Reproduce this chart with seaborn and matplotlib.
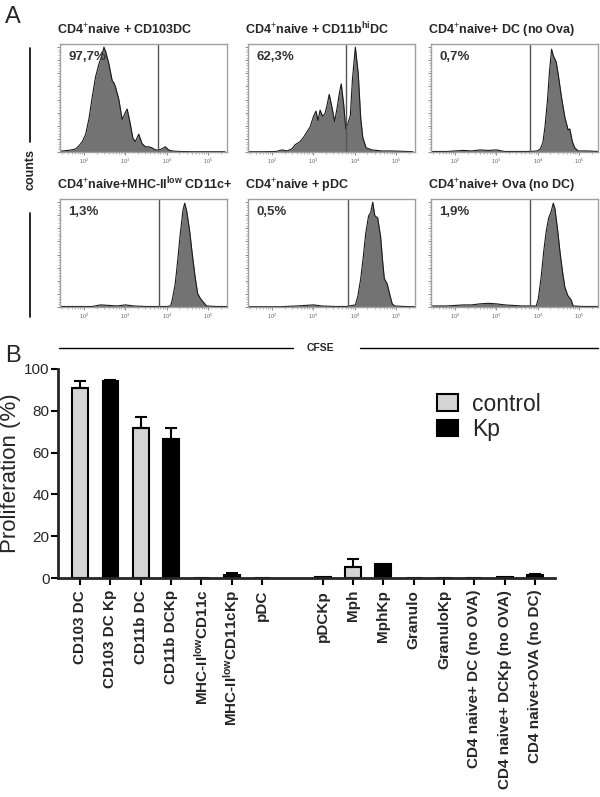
import numpy as np
import pandas as pd
import matplotlib
matplotlib.use("Agg")
import matplotlib.pyplot as plt
import seaborn as sns
from matplotlib.lines import Line2D
from matplotlib.patches import Patch

# ---------------- panel A: CFSE histograms (x = log10 CFSE, y = % of max count)
hist_titles = [r"CD4$^{+}$naive + CD103DC",
               r"CD4$^{+}$naive + CD11b$^{\mathregular{hi}}$DC",
               r"CD4$^{+}$naive+ DC (no Ova)",
               r"CD4$^{+}$naive+MHC-II$^{\mathregular{low}}$ CD11c+",
               r"CD4$^{+}$naive + pDC",
               r"CD4$^{+}$naive+ Ova (no DC)"]
hist_pct = ["97,7%", "62,3%", "0,7%", "1,3%", "0,5%", "1,9%"]
gate_log = [3.78, 3.78, 3.80, 3.80, 3.83, 3.80]

h1_x = [1.40, 1.50, 1.60, 1.70, 1.80, 1.88, 1.96, 2.04, 2.12, 2.20, 2.28, 2.36, 2.44, 2.48,
        2.52, 2.60, 2.68, 2.72, 2.76, 2.84, 2.92, 3.00, 3.04, 3.10, 3.18, 3.24, 3.32, 3.40,
        3.48, 3.56, 3.64, 3.72, 3.80, 3.88, 3.96, 4.04, 4.12, 4.30, 4.60, 5.00, 5.40]
h1_y = [1, 1, 1.5, 2, 3, 6, 10, 17, 32, 53, 72, 84, 93, 100,
        96, 84, 68, 66, 62, 50, 31, 38, 41, 30, 13, 10, 17, 8,
        5, 5, 4, 2, 2, 3, 5, 2, 1, 0.5, 0.3, 0.3, 0.3]

h2_x = [1.40, 1.80, 2.10, 2.24, 2.36, 2.48, 2.56, 2.68, 2.76, 2.84, 2.92, 3.00, 3.06, 3.11,
        3.16, 3.22, 3.28, 3.33, 3.38, 3.45, 3.51, 3.57, 3.62, 3.67, 3.73, 3.78, 3.83, 3.89,
        3.94, 4.01, 4.08, 4.14, 4.19, 4.27, 4.41, 4.65, 4.90, 5.40]
h2_y = [0.3, 0.3, 0.5, 2, 1, 3, 7, 10, 14, 19, 24, 34, 39, 30,
        40, 34, 37, 45, 55, 42, 29, 42, 55, 65, 45, 22, 27, 35,
        69, 100, 75, 32, 14, 4, 2, 1, 1, 0.3]

h3_x = [1.45, 1.80, 2.00, 2.20, 2.40, 2.60, 2.80, 3.00, 3.20, 3.50, 3.80, 3.98, 4.06, 4.12,
        4.17, 4.23, 4.28, 4.33, 4.37, 4.44, 4.49, 4.57, 4.65, 4.73, 4.77, 4.83, 4.89, 4.97,
        5.20, 5.45]
h3_y = [0.5, 0.5, 1, 1.5, 1, 2, 1.5, 2, 0.5, 0.5, 0.5, 1, 3, 9,
        24, 49, 77, 98, 92, 86, 74, 52, 33, 21, 22, 10, 4, 1,
        1, 0.5]

h4_x = [1.40, 1.80, 2.20, 2.40, 2.60, 2.80, 3.00, 3.20, 3.50, 3.80, 4.00, 4.09, 4.13, 4.20,
        4.26, 4.32, 4.39, 4.43, 4.48, 4.55, 4.61, 4.68, 4.74, 4.81, 4.87, 4.96, 5.20, 5.45]
h4_y = [0.5, 0.5, 0.5, 2, 1.5, 1, 2, 1, 0.5, 0.5, 0.5, 1, 7, 22,
        44, 69, 93, 99, 91, 72, 51, 29, 13, 8, 5, 1, 0.5, 0.5]

h5_x = [1.40, 1.80, 2.20, 2.60, 2.80, 3.00, 3.20, 3.50, 3.80, 4.01, 4.07, 4.14, 4.20, 4.26,
        4.33, 4.38, 4.43, 4.48, 4.55, 4.62, 4.67, 4.71, 4.78, 4.84, 4.90, 4.96, 5.20, 5.45]
h5_y = [0.3, 0.3, 0.3, 1, 1.5, 2, 1, 0.5, 0.5, 2, 10, 27, 47, 70,
        87, 90, 100, 87, 85, 67, 43, 27, 22, 12, 3, 1, 0.5, 0.3]

h6_x = [1.45, 1.80, 2.00, 2.20, 2.40, 2.60, 2.80, 3.00, 3.20, 3.40, 3.60, 3.80, 3.96, 4.01,
        4.08, 4.14, 4.20, 4.26, 4.32, 4.37, 4.41, 4.48, 4.54, 4.60, 4.65, 4.72, 4.80, 4.85,
        5.10, 5.45]
h6_y = [1, 1, 1.5, 2, 2, 3, 3.5, 3, 2, 1.5, 1, 1, 1, 8,
        29, 53, 72, 85, 91, 99, 94, 72, 50, 32, 19, 11, 7, 1,
        0.5, 0.5]

hist_x = [h1_x, h2_x, h3_x, h4_x, h5_x, h6_x]
hist_y = [h1_y, h2_y, h3_y, h4_y, h5_y, h6_y]

# ---------------- panel B: proliferation bars
conditions = ["CD103 DC", "CD103 DC Kp", "CD11b DC", "CD11b DCKp",
              r"MHC-II$^{\mathregular{low}}$CD11c", r"MHC-II$^{\mathregular{low}}$CD11cKp",
              "pDC", "pDCKp", "Mph", "MphKp", "Granulo", "GranuloKp",
              "CD4 naive+ DC (no OVA)", "CD4 naive+ DCKp (no OVA)", "CD4 naive+OVA (no DC)"]
groups = ["control", "Kp", "control", "Kp", "control", "Kp", "control", "Kp",
          "control", "Kp", "control", "Kp", "control", "Kp", "Kp"]
prolif_mean = [91.0, 94.3, 72.0, 66.3, 0.0, 1.6, 0.0, 0.5, 5.5, 6.9, 0.0, 0.0, 0.0, 0.4, 1.3]
prolif_sem = [3.2, 0.4, 4.8, 5.4, 0.0, 0.6, 0.0, 0.0, 3.7, 0.0, 0.0, 0.0, 0.0, 0.0, 0.4]

GRAY_BAR = "#d4d4d4"
HIST_FILL = "#737373"

sns.set_style("ticks")
plt.rcParams['font.family'] = ['Liberation Sans', 'DejaVu Sans']
plt.rcParams['mathtext.fontset'] = 'custom'
plt.rcParams['mathtext.rm'] = 'Liberation Sans'
plt.rcParams['mathtext.it'] = 'Liberation Sans:italic'
plt.rcParams['mathtext.bf'] = 'Liberation Sans:bold'

W, H = 600, 797
fig = plt.figure(figsize=(W / 100, H / 100), dpi=100)


def px(l, t, w, h):
    return [l / W, 1 - (t + h) / H, w / W, h / H]


col_left = [60, 248, 431]
row_top = [44, 199]
minor = [np.log10(k * 10.0 ** d) for d in range(1, 6) for k in range(2, 10)]

for i in range(6):
    r, c = divmod(i, 3)
    ax = fig.add_axes(px(col_left[c], row_top[r], 167, 108))
    x, y = hist_x[i], hist_y[i]
    ax.fill_between(x, y, color=HIST_FILL, lw=0)
    sns.lineplot(x=x, y=y, ax=ax, color="#1a1a1a", lw=0.8, estimator=None)
    ax.axvline(gate_log[i], color="#555555", lw=1.0)
    ax.set_xlim(1.42, 5.45)
    ax.set_ylim(0, 103)
    ax.set_xticks([2, 3, 4, 5])
    ax.set_xticklabels([r"$10^2$", r"$10^3$", r"$10^4$", r"$10^5$"], fontsize=4, color="#666666")
    ax.set_xticks([m for m in minor if 1.42 < m < 5.45], minor=True)
    ax.set_yticks(np.arange(0, 101, 12.5))
    ax.set_yticks(np.arange(0, 101, 2.5), minor=True)
    ax.set_yticklabels([])
    ax.tick_params(axis="both", which="major", length=2.5, width=0.6, color="#777777", pad=1)
    ax.tick_params(axis="both", which="minor", length=1.5, width=0.5, color="#999999")
    for s in ax.spines.values():
        s.set_color("#a0a0a0")
        s.set_linewidth(1.0)
    ax.set_xlabel("")
    ax.set_ylabel("")
    ax.set_title(hist_titles[i], loc="left", fontsize=9, fontweight="bold", pad=7, x=-0.02)
    ax.text(0.05, 0.88, hist_pct[i], transform=ax.transAxes, fontsize=9.5,
            fontweight="bold", color="#333333", va="center")

# shared labels for panel A
fig.text(5 / W, 1 - 17 / H, "A", fontsize=17, va="center")
fig.text(30 / W, 1 - 170 / H, "counts", rotation=90, fontsize=9, fontweight="bold",
         ha="center", va="center")
fig.add_artist(Line2D([30 / W, 30 / W], [1 - 48 / H, 1 - 142 / H], color="black", lw=1.2))
fig.add_artist(Line2D([30 / W, 30 / W], [1 - 213 / H, 1 - 317 / H], color="black", lw=1.2))
fig.add_artist(Line2D([59 / W, 293 / W], [1 - 348 / H] * 2, color="black", lw=1.0))
fig.add_artist(Line2D([360 / W, 598 / W], [1 - 348 / H] * 2, color="black", lw=1.0))
fig.text(320 / W, 1 - 348 / H, "CFSE", fontsize=7.5, fontweight="bold", ha="center", va="center")

# ---------------- panel B
fig.text(5 / W, 1 - 356 / H, "B", fontsize=17, va="center")
axB = fig.add_axes(px(58, 369, 497, 209))
order = conditions[:7] + [" "] + conditions[7:]
df = pd.DataFrame({"condition": conditions, "group": groups, "proliferation": prolif_mean})
sns.barplot(data=df, x="condition", y="proliferation", hue="group", order=order,
            palette={"control": GRAY_BAR, "Kp": "black"}, dodge=False, width=0.52,
            edgecolor="black", linewidth=1.5, errorbar=None, legend=False, ax=axB)

pos = [order.index(c) for c in conditions]
sel = [k for k in range(len(conditions)) if prolif_sem[k] > 0]
axB.errorbar([pos[k] for k in sel], [prolif_mean[k] for k in sel],
             yerr=[[0] * len(sel), [prolif_sem[k] for k in sel]],
             fmt="none", ecolor="black", elinewidth=1.5, capsize=4, capthick=1.5)

axB.set_xlim(-0.73, 15.66)
axB.set_ylim(0, 100)
axB.set_yticks(range(0, 101, 20))
axB.set_xticks(pos)
axB.set_xticklabels(conditions, rotation=90, fontsize=11, fontweight="bold")
axB.tick_params(axis="both", length=5, width=1.5, color="black")
axB.tick_params(axis="y", labelsize=11, pad=1)
axB.set_xlabel("")
axB.set_ylabel("Proliferation (%)", fontsize=16, labelpad=2)
sns.despine(ax=axB)
for s in ("left", "bottom"):
    axB.spines[s].set_linewidth(2)

handles = [Patch(facecolor=GRAY_BAR, edgecolor="black", lw=1.5, label="control"),
           Patch(facecolor="black", edgecolor="black", lw=1.5, label="Kp")]
axB.legend(handles=handles, loc="upper left", bbox_to_anchor=(0.722, 0.985), frameon=False,
           fontsize=16.5, handlelength=0.9, handleheight=0.75, handletextpad=0.6,
           labelspacing=0.1)

fig.savefig("out.png", dpi=100)
